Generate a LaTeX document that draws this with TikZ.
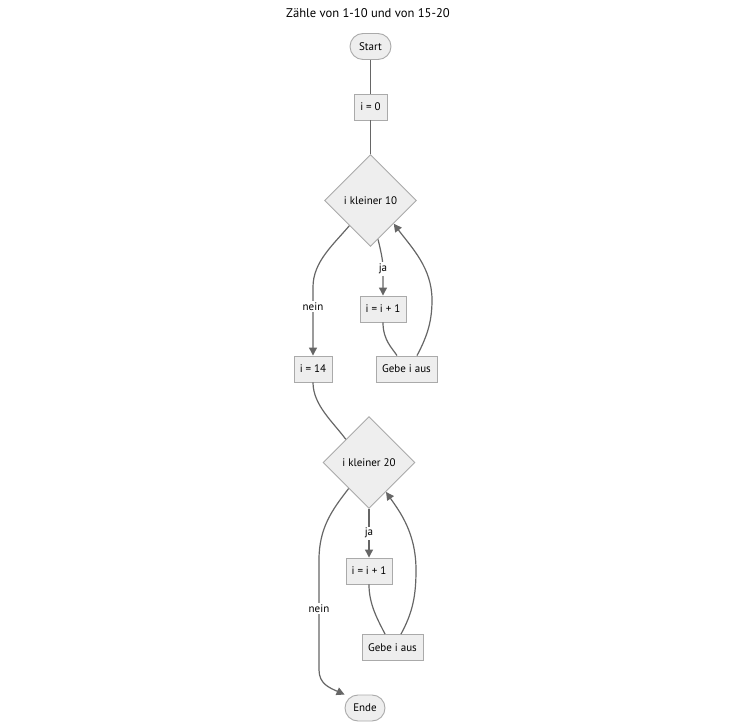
\documentclass[tikz,border=0pt]{standalone}
\usepackage{fontspec}
\setmainfont{PT Sans}
\usetikzlibrary{shapes.geometric,arrows.meta}
\definecolor{boxfill}{HTML}{EEEEEE}
\definecolor{boxline}{HTML}{AAAAAA}
\definecolor{edgecol}{HTML}{666666}
\tikzset{
  base/.style={draw=boxline, fill=boxfill, line width=0.9pt, font=\fontsize{11}{13}\selectfont, inner sep=0pt, text=black},
  procbox/.style={base, rectangle, minimum height=26pt},
  termbox/.style={base, rectangle, rounded corners=13pt, minimum height=26pt},
  decbox/.style={base, diamond, aspect=1, minimum width=92pt, minimum height=92pt},
  edge/.style={draw=edgecol, line width=1.2pt},
  arrowedge/.style={edge, -{Triangle[length=8pt,width=8pt]}},
  lbl/.style={fill=white, inner sep=1.5pt, font=\fontsize{11}{13}\selectfont, text=black},
}
\begin{document}
\begin{tikzpicture}[x=1pt,y=-1pt]
\useasboundingbox (0,0) rectangle (732,727);
\node[font=\fontsize{12.6}{15}\selectfont] (title) at (368,13) {Zähle von 1-10 und von 15-20};
\node[termbox, minimum width=41pt] (start) at (370.5,46.5) {Start};
\node[procbox, minimum width=33pt] (i0) at (370.5,107) {i = 0};
\node[decbox] (d1) at (370.5,200.5) {i kleiner 10};
\node[procbox, minimum width=46pt] (i1) at (383,309) {i = i + 1};
\node[procbox, minimum width=61pt] (g1) at (406.5,369) {Gebe i aus};
\node[procbox, minimum width=38pt] (i14) at (313,369) {i = 14};
\node[decbox] (d2) at (369,462.5) {i kleiner 20};
\node[procbox, minimum width=46pt] (i2) at (369,571) {i = i + 1};
\node[procbox, minimum width=61pt] (g2) at (392.5,647.5) {Gebe i aus};
\node[termbox, minimum width=40pt] (ende) at (365,708) {Ende};

\draw[edge] (start) -- (i0);
\draw[edge] (i0) -- (d1);
\draw[arrowedge] (d1.-79) .. controls (381,252) and (383,260) .. (383,269) node[lbl] {ja} -- (i1.north);
\draw[edge] (i1.south) .. controls (383,340) and (392,348) .. ([xshift=-9.5pt]g1.north);
\draw[arrowedge] ([xshift=10.5pt]g1.north) .. controls (428,335) and (432,320) .. (432,300) .. controls (432,268) and (412,248) .. (d1.south east);
\draw[arrowedge] (d1.230) .. controls (333,245) and (313,262) .. (313,287) -- node[lbl, pos=0.29] {nein} (i14.north);
\draw[edge] (i14.south) .. controls (313,405) and (333,422) .. (d2.north west);
\draw[arrowedge] (d2.south) -- node[lbl] {ja} (i2.north);
\draw[edge] (i2.south) .. controls (369,605) and (378,620) .. ([xshift=-7.5pt]g2.north);
\draw[arrowedge] ([xshift=8.5pt]g2.north) .. controls (413,612) and (416,595) .. (416,570) .. controls (416,533) and (400,512) .. (d2.-60);
\draw[arrowedge] (d2.232) .. controls (332,510) and (319,528) .. (319,560) -- node[lbl, pos=0.44] {nein} (319,670) .. controls (319,684) and (330,688) .. (ende.north west);
\end{tikzpicture}
\end{document}
